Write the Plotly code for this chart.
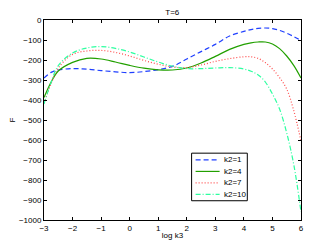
import plotly.graph_objects as go

x_vals = [-3, -2.75, -2.5, -2, -1.5, -1, -0.5, 0, 0.5, 1, 1.5, 2, 2.5, 3, 3.5, 4, 4.25, 4.5, 4.75, 5, 5.25, 5.5, 5.75, 6]

k2_1 = [-290, -262, -250, -243, -246, -253, -259, -263, -258, -248, -232, -195, -158, -122, -80, -57, -48, -42, -40, -43, -52, -66, -83, -103]
k2_4 = [-388, -310, -255, -212, -192, -195, -210, -227, -241, -249, -250, -240, -215, -182, -147, -122, -114, -110, -110, -120, -143, -180, -228, -290]
k2_7 = [-415, -318, -240, -172, -155, -152, -162, -180, -202, -221, -235, -238, -225, -207, -193, -184, -184, -192, -213, -245, -288, -345, -455, -605]
k2_10 = [-420, -312, -228, -165, -140, -133, -142, -160, -185, -210, -231, -243, -243, -240, -238, -245, -256, -275, -310, -370, -445, -565, -725, -960]

series_names = ["k2=1", "k2=4", "k2=7", "k2=10"]
series_vals = [k2_1, k2_4, k2_7, k2_10]
colors = ["#1f3fff", "#22a000", "#ff4a4a", "#2dffa0"]
dashes = ["5px,3px", "solid", "1px,2px", "5px,2px,1px,2px"]

x_ticks = [-3, -2, -1, 0, 1, 2, 3, 4, 5, 6]
y_ticks = [0, -100, -200, -300, -400, -500, -600, -700, -800, -900, -1000]

# page body has an 8px margin; figure sized to fit the 332x250 window
OFF = 8
W, H = 332 - OFF, 250 - OFF
PL, PR, PT, PB = 43.7, 300.7, 19.5, 220.0   # target plot edges in window pixels
ML, MR, MT, MB = PL - OFF, W - (PR - OFF), PT - OFF, H - (PB - OFF)
PW, PH = W - ML - MR, H - MT - MB

def px(xp):
    return (xp - OFF - ML) / PW

def py(yp):
    return (H - MB - (yp - OFF)) / PH

fig = go.Figure()
for name, vals, c, d in zip(series_names, series_vals, colors, dashes):
    fig.add_trace(go.Scatter(x=x_vals, y=vals, mode="lines", name=name, showlegend=False,
                             line=dict(color=c, dash=d, width=1.2, shape="spline", smoothing=1.0)))

font = "Liberation Sans, Arial, Helvetica, sans-serif"
axis_common = dict(showline=True, linecolor="black", linewidth=1, mirror="ticks",
                   ticks="inside", ticklen=3, tickcolor="black", showgrid=False,
                   zeroline=False, automargin=False,
                   tickfont=dict(size=8, color="black", family=font))

# legend box (drawn in paper coordinates)
shapes = [dict(type="rect", xref="paper", yref="paper",
               x0=px(191.3), x1=px(247), y0=py(200.7), y1=py(153),
               line=dict(color="black", width=1), fillcolor="white", layer="above")]
annotations = []
row_y = [159.7, 171.3, 182.7, 194.3]
for name, c, d, ry in zip(series_names, colors, dashes, row_y):
    shapes.append(dict(type="line", xref="paper", yref="paper",
                       x0=px(195.3), x1=px(219.3), y0=py(ry), y1=py(ry),
                       line=dict(color=c, dash=d, width=1.2), layer="above"))
    annotations.append(dict(text=name, xref="paper", yref="paper", x=px(222), y=py(ry),
                            xanchor="left", yanchor="middle", showarrow=False,
                            font=dict(size=8, color="black", family=font)))

fig.update_layout(
    width=W, height=H,
    margin=dict(l=ML, r=MR, t=MT, b=MB, pad=0),
    paper_bgcolor="white", plot_bgcolor="white",
    title=dict(text="T=6", x=px(172), xanchor="center", xref="paper",
               y=1 - (12 - OFF) / H, yanchor="middle",
               font=dict(size=8, color="black", family=font)),
    xaxis=dict(range=[-3, 6], tickvals=x_ticks,
               title=dict(text="log k3", font=dict(size=8, color="black", family=font), standoff=0),
               **axis_common),
    yaxis=dict(range=[-1000, 0], tickvals=y_ticks,
               title=dict(text="F", font=dict(size=8, color="black", family=font), standoff=5),
               **axis_common),
    shapes=shapes,
    annotations=annotations,
    showlegend=False,
)

fig.write_html("out.html")
